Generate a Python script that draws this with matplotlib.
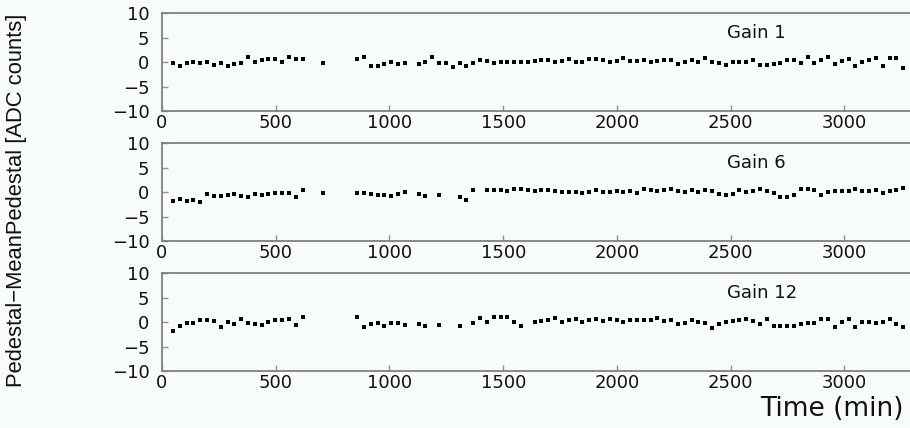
import numpy as np
import matplotlib
matplotlib.use('Agg')
import matplotlib.pyplot as plt

# sampling: one pedestal run every 30 min
t_start, t_step, n_runs = 48, 30, 108
times = t_start + t_step * np.arange(n_runs)

gain1 = [
    -0.2, -0.8, -0.1, 0.0, -0.1, 0.0, -0.5, -0.2, -0.7, -0.3,
    -0.2, 1.0, 0.0, 0.4, 0.7, 0.7, 0.1, 1.1, 0.7, 0.7,
    None, None, -0.2, None, None, None, None,
    0.7, 1.0, -0.8, -0.75, -0.4, 0.0, -0.4, -0.1, None,
    -0.4, 0.0, 1.0, -0.2, -0.2, -0.95, -0.1, -0.8, -0.2, 0.4,
    0.3, -0.1, 0.0, 0.0, 0.1, 0.1, 0.1,
    0.3, 0.4, 0.5, 0.1, 0.2, 0.6, 0.0, 0.1, 0.6, 0.7,
    0.5, 0.0, 0.2, 0.8, 0.3, 0.3, 0.4, 0.1, 0.3, 0.5, 0.4,
    -0.4, 0.0, 0.4, 0.0, 0.8, 0.0, -0.2, -0.5, 0.0, 0.0,
    0.1, 0.5, -0.5, -0.5, -0.3, -0.1, 0.5, 0.4, -0.1, 1.1,
    -0.1, 0.4, 1.1, -0.3, 0.3, 0.7, -0.8, 0.0, 0.5, 0.8,
    -0.7, 0.8, 0.95, -1.1,
]
gain6 = [
    -1.9, -1.5, -1.8, -1.6, -2.0, -0.4, -0.8, -0.8, -0.65, -0.3,
    -0.8, -0.9, -0.4, -0.5, -0.45, -0.1, -0.1, -0.1, -0.9, 0.4,
    None, None, -0.2, None, None, None, None,
    -0.2, -0.2, -0.4, -0.5, -0.65, -0.7, -0.4, 0.0, None,
    -0.3, -0.8, None, -0.65, None, None, -0.9, -1.7, 0.4, None,
    0.5, 0.5, 0.4, 0.2, 0.65, 0.6, 0.5,
    0.3, 0.4, 0.4, 0.2, 0.0, 0.1, 0.0, -0.2, 0.0, 0.5,
    0.1, 0.0, 0.3, 0.0, 0.3, -0.1, 0.6, 0.5, 0.2, 0.4,
    0.6, 0.3, 0.0, 0.4, 0.1, 0.5, 0.2, -0.3,
    -0.6, -0.3, 0.4, 0.0, 0.3, 0.6, 0.3, -0.2, -0.9, -1.0,
    -0.5, 0.6, 0.6, 0.5, -0.6, 0.1, 0.2, 0.2, 0.3, 0.6,
    0.2, 0.2, 0.5, -0.1, 0.3, 0.5, 0.8,
]
gain12 = [
    -1.8, -0.8, -0.25, -0.25, 0.45, 0.4, 0.25, -0.9, 0.0, -0.45,
    0.6, -0.25, -0.45, -0.6, 0.0, 0.4, 0.4, 0.6, -0.6, 1.0,
    None, None, None, None, None, None, None,
    1.0, -1.0, -0.4, -0.25, -0.7, -0.15, -0.15, -0.6, None,
    -0.45, -0.85, None, -0.5, None, None, -0.85, None, -0.15, 0.85,
    0.0, 1.0, 1.0, 1.0, 0.0, -0.8, None,
    0.1, 0.25, 0.4, 0.8, 0.0, 0.5, 0.65, 0.1, 0.5, 0.65,
    0.2, 0.7, 0.5, 0.0, 0.5, 0.4, 0.5, 0.4, 0.8, 0.3,
    0.4, -0.35, -0.1, 0.45, 0.0, -0.25, -1.1, -0.35, 0.0, 0.2,
    0.4, 0.7, 0.2, -0.35, 0.6, -0.85, -0.85, -0.7, -0.85, -0.35,
    -0.25, -0.1, 0.7, 0.7, -1.0, 0.0, 0.6, -1.0, 0.0, 0.0,
    -0.25, 0.0, 0.65, -0.35, -0.9,
]
panel_names = ['Gain 1', 'Gain 6', 'Gain 12']
x_ticks = [0, 500, 1000, 1500, 2000, 2500, 3000]
y_ticks = [-10, -5, 0, 5, 10]

bg = '#f7fbf9'
plt.rcParams['font.family'] = 'DejaVu Sans'
plt.rcParams['axes.linewidth'] = 1.3
plt.rcParams['axes.edgecolor'] = '#808080'

fig = plt.figure(figsize=(9.1, 4.28), dpi=100, facecolor=bg)

# axes boxes in figure fractions: [left, bottom, width, height]
boxes = [[0.178, 0.7407, 0.822, 0.2282],
         [0.178, 0.4369, 0.822, 0.2282],
         [0.178, 0.1332, 0.822, 0.2282]]

for box, name, vals in zip(boxes, panel_names, [gain1, gain6, gain12]):
    ax = fig.add_axes(box, facecolor=bg)
    y = np.array(vals, dtype=float)
    ax.plot(times, y, 's', color='black', ms=2.3, mew=0)
    ax.set_xlim(0, 3288)
    ax.set_ylim(-10, 10)
    ax.set_xticks(x_ticks)
    ax.set_yticks(y_ticks)
    ax.spines['right'].set_visible(False)
    ax.tick_params(direction='in', length=4, width=1, color='#909090',
                   labelsize=13, labelcolor='#111111')
    ax.tick_params(axis='y', pad=9)
    ax.tick_params(axis='x', pad=2)
    ax.text(0.755, 0.80, name, transform=ax.transAxes, fontsize=13,
            ha='left', va='center', color='#111111')

fig.text(0.018, 0.533, 'Pedestal\u2212MeanPedestal [ADC counts]', rotation=90,
         ha='center', va='center', fontsize=15.8, color='#111111',
         family=['Liberation Sans', 'DejaVu Sans'])
fig.text(0.993, 0.044, 'Time (min)', ha='right', va='center', fontsize=19,
         color='#111111')

fig.savefig('out.png', dpi=100, facecolor=bg)
